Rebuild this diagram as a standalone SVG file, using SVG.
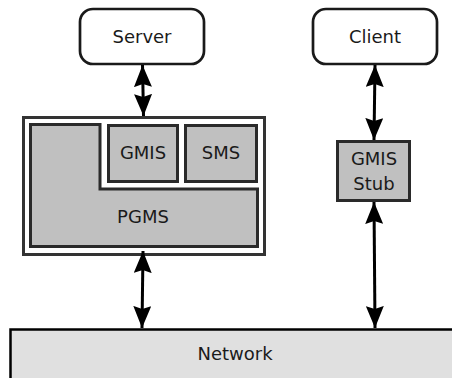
<svg xmlns="http://www.w3.org/2000/svg" width="452" height="378" viewBox="0 0 452 378">
  <style>
    .lbl { font-family: "DejaVu Sans", "Liberation Sans", sans-serif; font-size: 18px; fill: #1a1a1a; text-anchor: middle; }
    .term { fill: #ffffff; stroke: #1a1a1a; stroke-width: 2.7; }
    .mod { fill: #c0c0c0; stroke: #2a2a2a; stroke-width: 3; }
    .wire { fill: none; stroke: #000; stroke-width: 3; }
  </style>
  <defs>
    <marker id="head" viewBox="0 0 22 18" refX="22" refY="9" markerWidth="22" markerHeight="18" markerUnits="userSpaceOnUse" orient="auto-start-reverse">
      <path d="M0,0 L22,9 L0,18 L3,9 Z" fill="#000"/>
    </marker>
  </defs>

  <g id="server">
    <rect class="term" x="80" y="9" width="124" height="55" rx="13"/>
    <text class="lbl" x="142" y="43">Server</text>
  </g>

  <g id="client">
    <rect class="term" x="313" y="9" width="124" height="55" rx="13"/>
    <text class="lbl" x="375" y="43">Client</text>
  </g>

  <g id="host">
    <rect x="23.5" y="117.5" width="241" height="137" fill="#ffffff" stroke="#333" stroke-width="3"/>
  </g>

  <g id="pgms">
    <path class="mod" d="M30.5,124.5 H100 V189 H257.5 V246.5 H30.5 Z"/>
    <text class="lbl" x="143" y="223">PGMS</text>
  </g>

  <g id="gmis">
    <rect class="mod" x="108.5" y="125.5" width="69" height="56"/>
    <text class="lbl" x="143" y="159">GMIS</text>
  </g>

  <g id="sms">
    <rect class="mod" x="185.5" y="125.5" width="71" height="56"/>
    <text class="lbl" x="221" y="159">SMS</text>
  </g>

  <g id="gmis-stub">
    <rect class="mod" x="337.5" y="141.5" width="72" height="59" stroke="#111"/>
    <text class="lbl" x="374" y="165">GMIS</text>
    <text class="lbl" x="374" y="190">Stub</text>
  </g>

  <g id="network">
    <rect x="10.5" y="329.5" width="460" height="70" fill="#e0e0e0" stroke="#000" stroke-width="2.5"/>
    <text class="lbl" x="235" y="360">Network</text>
  </g>

  <g id="connectors">
    <line class="wire" x1="142.5" y1="65" x2="143.5" y2="116" marker-start="url(#head)" marker-end="url(#head)"/>
    <line class="wire" x1="143" y1="251" x2="142" y2="328" marker-start="url(#head)" marker-end="url(#head)"/>
    <line class="wire" x1="375" y1="65" x2="374" y2="140" marker-start="url(#head)" marker-end="url(#head)"/>
    <line class="wire" x1="374" y1="202" x2="375" y2="328" marker-start="url(#head)" marker-end="url(#head)"/>
  </g>
</svg>
